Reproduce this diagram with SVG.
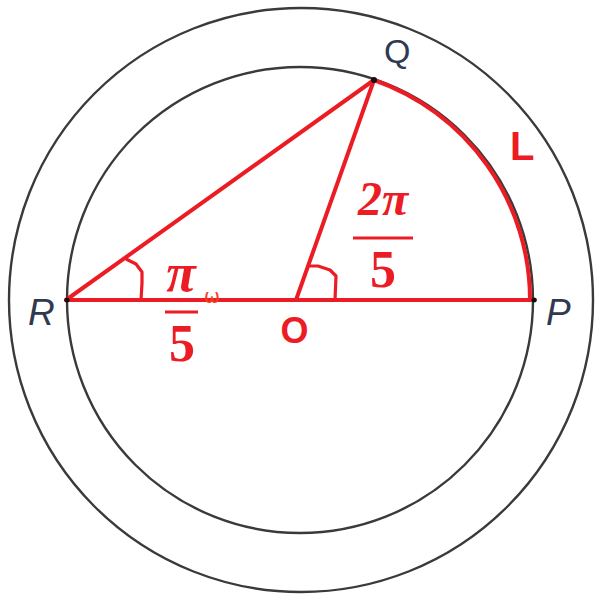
<svg xmlns="http://www.w3.org/2000/svg" width="598" height="598" viewBox="0 0 598 598">
<style>
.circ{fill:none;stroke:#3a3a3a;stroke-width:2.4}
.red{fill:none;stroke:#ec1c24;stroke-width:4;stroke-linecap:round;stroke-linejoin:round}
.mark{fill:none;stroke:#ec1c24;stroke-width:3.2;stroke-linejoin:round}
.pt{font-family:"Liberation Sans",Arial,sans-serif;fill:#2f3a52}
.rl{font-family:"Liberation Sans",Arial,sans-serif;font-weight:bold;fill:#ec1c24}
.fr{font-family:"Liberation Serif","DejaVu Serif",serif;font-weight:bold;fill:#ec1c24;text-anchor:middle}
.bar{stroke:#ec1c24;stroke-width:3}
</style>
<rect width="598" height="598" fill="#fff"/>
<g id="circles">
<circle class="circ" cx="301" cy="300" r="292"/>
<circle class="circ" cx="300" cy="300" r="233"/>
</g>
<g id="connectors">
<line class="red" x1="66" y1="300" x2="535" y2="300"/>
<line class="red" x1="66" y1="300" x2="374" y2="80"/>
<line class="red" x1="296" y1="300" x2="374" y2="80"/>
<path class="red" d="M374 80 A233 233 0 0 1 530 300"/>
<path class="mark" d="M126 259 L136 264 L142 272 L142 283 L141 300"/>
<path class="mark" d="M308 266 L318 266 L330 270 L336 276 L335 300"/>
</g>
<g id="R"><circle cx="67" cy="300" r="2.5" fill="#111"/><text class="pt" x="28" y="325" font-size="37" font-style="italic">R</text></g>
<g id="Q"><circle cx="374" cy="80" r="3" fill="#111"/><text class="pt" x="384" y="63" font-size="34">Q</text></g>
<g id="P"><circle cx="534" cy="300" r="2.5" fill="#111"/><text class="pt" x="546" y="325" font-size="37" font-style="italic">P</text></g>
<g id="O"><text class="rl" x="294.5" y="343" font-size="36" text-anchor="middle">O</text></g>
<g id="L"><text class="rl" x="510" y="160" font-size="40">L</text></g>
<g id="angleR">
<text class="fr" x="181" y="291" font-size="54" font-style="italic">π</text>
<line class="bar" x1="165" y1="312" x2="198" y2="312"/>
<text class="fr" x="182" y="361" font-size="52">5</text>
<text x="204" y="303" font-family="DejaVu Sans,sans-serif" font-size="19" fill="#f04020">ω</text>
</g>
<g id="angleO">
<text class="fr" x="383" y="215" font-size="48" font-style="italic">2π</text>
<line class="bar" x1="353" y1="238" x2="413" y2="238"/>
<text class="fr" x="383" y="287" font-size="52">5</text>
</g>
</svg>
